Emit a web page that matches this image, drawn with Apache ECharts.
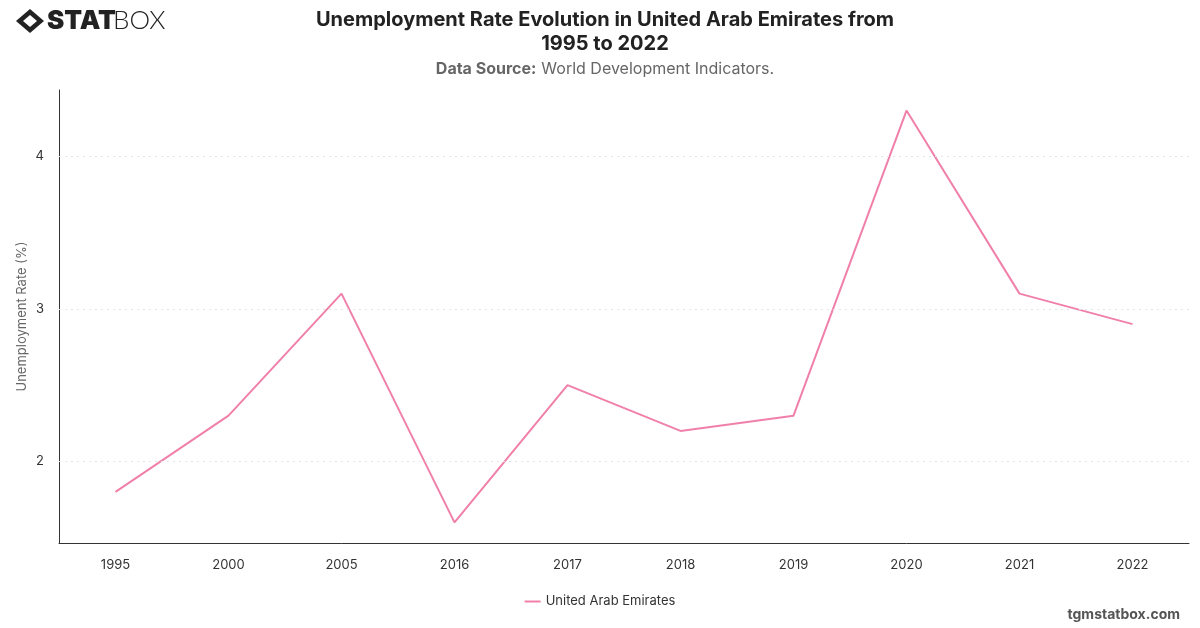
<!DOCTYPE html>
<html>
<head>
<meta charset="utf-8">
<script src="https://cdn.jsdelivr.net/npm/echarts@6/dist/echarts.min.js"></script>
<style>
html,body{margin:0;padding:0;background:#fff;}
#c{width:1200px;height:628px;}
</style>
</head>
<body>
<div id="c"></div>
<script>
const years = ['1995','2000','2005','2016','2017','2018','2019','2020','2021','2022'];
const uaeRate = [1.8, 2.3, 3.1, 1.6, 2.5, 2.2, 2.3, 4.3, 3.1, 2.9];
const yTicks = [2, 3, 4];
const seriesName = 'United Arab Emirates';

const chart = echarts.init(document.getElementById('c'), null, {renderer: 'canvas'});
const dataMin = Math.min(...uaeRate), dataMax = Math.max(...uaeRate);
const pad = (dataMax - dataMin) * 0.05;

chart.setOption({
  animation: false,
  backgroundColor: '#ffffff',
  title: [{
    text: 'Unemployment Rate Evolution in United Arab Emirates from\n1995 to 2022',
    left: 600, top: 3, textAlign: 'center',
    textStyle: {fontFamily: 'Inter', fontSize: 20, fontWeight: 'bold', color: '#222', lineHeight: 24}
  }, {
    text: '{b|Data Source:} {n|World Development Indicators.}',
    left: 600, top: 55, textAlign: 'center',
    textStyle: {
      fontWeight: 'normal',
      rich: {
        b: {fontFamily: 'Inter', fontSize: 16, fontWeight: 'bold', color: '#666'},
        n: {fontFamily: 'Inter', fontSize: 16, fontWeight: 'normal', color: '#666'}
      }
    }
  }],
  graphic: [
    {type: 'polygon', shape: {points: [[30,9],[44,21],[30,33],[16,21]]}, style: {fill: '#222'}},
    {type: 'polygon', shape: {points: [[30,15],[37,21],[30,27],[23,21]]}, style: {fill: '#fff'}},
    {type: 'text', left: 47, top: 8, style: {text: 'STAT', fontFamily: 'Inter', fontWeight: 900, fontSize: 26, fill: '#222'}},
    {type: 'text', left: 113, top: 8, style: {text: 'BOX', fontFamily: 'Lato', fontWeight: 300, fontSize: 26, fill: '#222'}},
    {type: 'text', right: 20, top: 608, style: {text: 'tgmstatbox.com', fontFamily: 'Inter', fontWeight: 'bold', fontSize: 14, fill: '#555'}}
  ],
  legend: {
    bottom: 15, left: 'center',
    itemWidth: 16, itemHeight: 2,
    icon: 'rect',
    textStyle: {fontFamily: 'Inter', fontSize: 13, color: '#333'},
    data: [seriesName]
  },
  grid: {left: 59, right: 11, top: 90, bottom: 85},
  xAxis: {
    type: 'category',
    data: years,
    boundaryGap: true,
    axisLine: {lineStyle: {color: '#333', width: 1}},
    axisTick: {show: false},
    axisLabel: {fontFamily: 'Inter', fontSize: 13, color: '#333', margin: 16}
  },
  yAxis: {
    type: 'value',
    min: +(dataMin - pad).toFixed(3),
    max: +(dataMax + pad).toFixed(3),
    name: 'Unemployment Rate (%)',
    nameLocation: 'middle',
    nameGap: 30,
    nameMoveOverlap: false,
    nameTextStyle: {fontFamily: 'Inter', fontSize: 13, color: '#666'},
    axisLine: {show: true, lineStyle: {color: '#333', width: 1}},
    axisTick: {show: false, customValues: yTicks},
    axisLabel: {fontFamily: 'Inter', fontSize: 13, color: '#333', margin: 15, customValues: yTicks},
    splitLine: {show: false}
  },
  series: [{
    name: seriesName,
    type: 'line',
    data: uaeRate,
    showSymbol: false,
    symbol: 'none',
    lineStyle: {color: '#f080aa', width: 2},
    itemStyle: {color: '#f080aa'},
    markLine: {
      silent: true,
      symbol: 'none',
      label: {show: false},
      lineStyle: {color: '#e4e4e4', type: [2, 4], width: 1},
      data: yTicks.map(v => ({yAxis: v}))
    }
  }]
});
</script>
</body>
</html>
